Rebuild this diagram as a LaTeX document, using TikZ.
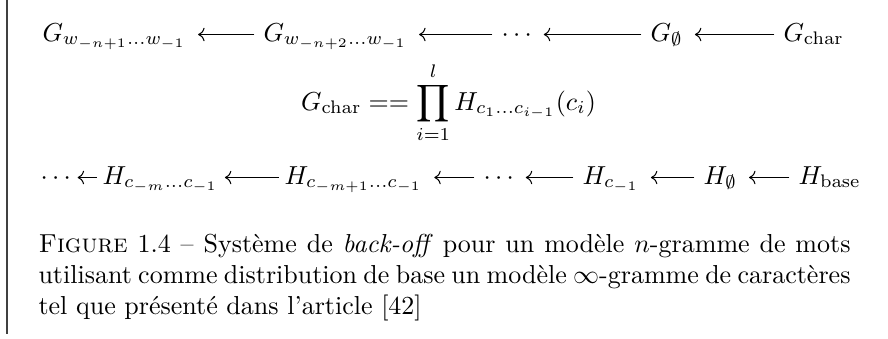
\documentclass[tikz,border=0pt]{standalone}
\usetikzlibrary{arrows.meta}
\tikzset{
  lbl/.style={inner sep=0pt, anchor=base west},
  arr/.style={-{Computer Modern Rightarrow}, line width=0.4pt, shorten >=4.4pt, shorten <=3.3pt},
  arrtight/.style={-{Computer Modern Rightarrow}, line width=0.4pt, shorten >=2.4pt, shorten <=2.1pt}
}
\begin{document}
\begin{tikzpicture}[x=0.3846pt,y=-0.3846pt]
\useasboundingbox (0,0) rectangle (888,338);
\draw[black!75, line width=0.4pt] (7,0) -- (7,334);
% top row
\coordinate (axt) at (0,34.5);
\node[lbl] (g1) at (42,41) {$G_{w_{-n+1}\ldots w_{-1}}$};
\node[lbl] (g2) at (263,41) {$G_{w_{-n+2}\ldots w_{-1}}$};
\node[lbl] (gd) at (501,41) {$\cdots$};
\node[lbl] (g0) at (650,41) {$G_{\emptyset}$};
\node[lbl] (gc) at (783,41) {$G_{\mathrm{char}}$};
\draw[arr] (g2.west |- axt) -- (g1.east |- axt);
\draw[arr] (gd.west |- axt) -- (g2.east |- axt);
\draw[arr] (g0.west |- axt) -- (gd.east |- axt);
\draw[arr] (gc.west |- axt) -- (g0.east |- axt);
% middle formula
\node[inner sep=0pt, anchor=base] (prod) at (448.5,110) {$\displaystyle G_{\mathrm{char}} == \prod_{i=1}^{l} H_{c_1\ldots c_{i-1}}(c_i)$};
% bottom row
\coordinate (axb) at (0,177.5);
\node[lbl] (hd0) at (40,184) {$\cdots$};
\node[lbl] (h1) at (102,184) {$H_{c_{-m}\ldots c_{-1}}$};
\node[lbl] (h2) at (284,184) {$H_{c_{-m+1}\ldots c_{-1}}$};
\node[lbl] (hd) at (483,184) {$\cdots$};
\node[lbl] (h3) at (582,184) {$H_{c_{-1}}$};
\node[lbl] (h0) at (703,184) {$H_{\emptyset}$};
\node[lbl] (hb) at (798,184) {$H_{\mathrm{base}}$};
\draw[arrtight] (h1.west |- axb) -- (hd0.east |- axb);
\draw[arrtight] (h2.west |- axb) -- (h1.east |- axb);
\draw[arr] (hd.west |- axb) -- (h2.east |- axb);
\draw[arr] (h3.west |- axb) -- (hd.east |- axb);
\draw[arr] (h0.west |- axb) -- (h3.east |- axb);
\draw[arr] (hb.west |- axb) -- (h0.east |- axb);
% caption
\node[inner sep=0pt, anchor=base west, font=\fontsize{10}{12}\selectfont] (cap) at (38,252)
  {\vtop{\hsize=312.3pt
   \hbox to\hsize{\textsc{Figure} 1.4 -- Système de \textit{back-off} pour un modèle $n$-gramme de mots}
   \hbox to\hsize{utilisant comme distribution de base un modèle $\infty$-gramme de caractères}
   \hbox{tel que présenté dans l'article [42]}}};
\end{tikzpicture}
\end{document}
